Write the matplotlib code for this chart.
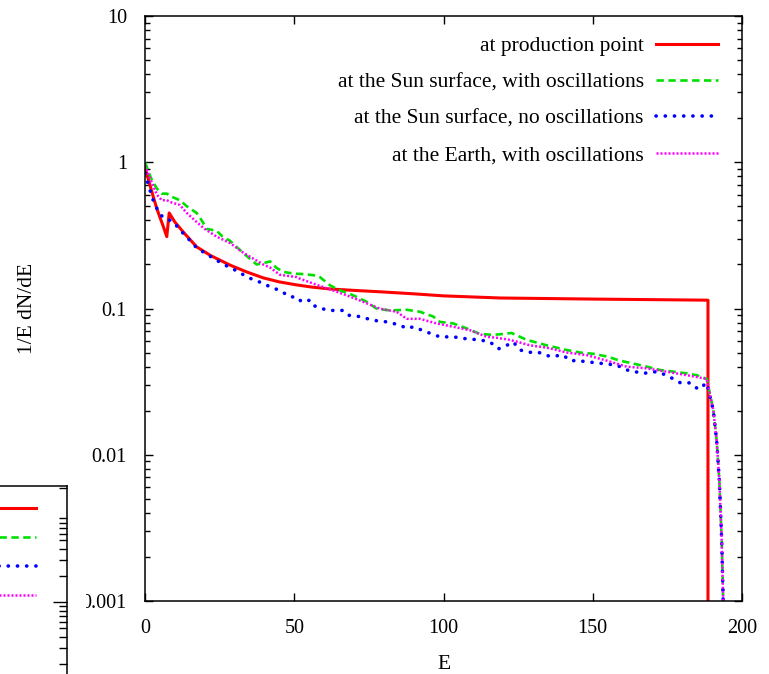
import numpy as np
import matplotlib
matplotlib.use("Agg")
import matplotlib.pyplot as plt
from matplotlib.patches import Rectangle
from matplotlib.lines import Line2D
from matplotlib.ticker import LogLocator, NullFormatter, FixedLocator

plt.rcParams['font.family'] = ['Liberation Serif', 'DejaVu Serif']

# ---------------- data ----------------
labels = ["at production point",
          "at the Sun surface, with oscillations",
          "at the Sun surface, no oscillations",
          "at the Earth, with oscillations"]

E_prod = [0, 1, 2, 3, 4, 5, 6, 7.3, 8.1, 10, 13, 17.3, 22, 28.5, 34, 39.6, 45,
          50.8, 56, 62, 70, 79, 90, 100, 119, 150, 188.6, 188.6]
v_prod = [0.92, 0.78, 0.66, 0.56, 0.48, 0.42, 0.37, 0.31, 0.45, 0.39, 0.33,
          0.264, 0.23, 0.198, 0.178, 0.162, 0.152, 0.145, 0.140, 0.136, 0.133,
          0.130, 0.126, 0.122, 0.118, 0.116, 0.114, 1e-4]

E_tail = [190.4, 191.5, 192.4, 193.2, 193.7, 194.0]
v_tail = [0.020, 0.0126, 0.0067, 0.0026, 0.001, 0.0005]

E_sun_osc = [0, 2, 4, 5.6, 7.3, 9, 11.7, 14, 17.3, 19, 20.7, 24, 26, 28.5, 31,
             32.9, 35, 37.4, 40, 41.9, 44, 46.3, 50, 53, 56.4, 58.6, 62, 65.3,
             69.8, 74.3, 77.6, 82, 87.7, 92.1, 96.6, 98.8, 103.3, 107.8, 112.2,
             116.7, 120, 122.8, 127.9, 134.6, 141.3, 145.7, 150.2, 154.7, 159.1,
             163.6, 168.1, 172.5, 177, 181.5, 184.8, 188.2]
v_sun_osc = [1.0, 0.78, 0.66, 0.61, 0.61, 0.58, 0.55, 0.50, 0.45, 0.40, 0.35,
             0.34, 0.31, 0.29, 0.26, 0.24, 0.22, 0.20, 0.205, 0.21, 0.19, 0.178,
             0.173, 0.172, 0.169, 0.164, 0.144, 0.133, 0.123, 0.111, 0.0997,
             0.097, 0.098, 0.095, 0.088, 0.081, 0.079, 0.073, 0.067, 0.066,
             0.067, 0.068, 0.061, 0.056, 0.052, 0.050, 0.049, 0.047, 0.044,
             0.042, 0.040, 0.038, 0.037, 0.036, 0.035, 0.033]

E_sun_noosc = [0, 1.7, 3, 4.5, 6, 7.5, 9.5, 12, 14.5, 17.3, 20, 23, 25.5, 28.5,
               31, 34, 37, 39.6, 42, 45.2, 48.6, 50.8, 52.5, 55.3, 56.4, 59, 62,
               66.4, 68.1, 72, 76.5, 81, 85.4, 87.7, 89.9, 94.4, 98.8, 103.3,
               107.8, 112.2, 115.6, 118.4, 121.2, 123.4, 125.6, 129.5, 132,
               135.7, 140.1, 142.4, 145, 149, 153.5, 158, 161.4, 166.9, 171.4,
               174.7, 177, 179.4, 182.6, 185.4, 188.2]
v_sun_noosc = [0.84, 0.64, 0.53, 0.46, 0.42, 0.41, 0.39, 0.34, 0.30, 0.26, 0.24,
               0.22, 0.205, 0.19, 0.18, 0.165, 0.155, 0.149, 0.14, 0.133, 0.12,
               0.12, 0.111, 0.114, 0.105, 0.10, 0.097, 0.097, 0.09, 0.088,
               0.083, 0.081, 0.077, 0.073, 0.075, 0.069, 0.064, 0.064, 0.062,
               0.061, 0.059, 0.053, 0.056, 0.059, 0.052, 0.050, 0.050, 0.047,
               0.048, 0.044, 0.044, 0.043, 0.042, 0.041, 0.038, 0.036, 0.037,
               0.035, 0.033, 0.031, 0.031, 0.028, 0.031]

E_earth = [0, 2, 4, 5.6, 7.3, 9, 11.7, 14, 17.3, 20, 24, 28.5, 33, 37, 39.6, 42,
           45.2, 50.8, 51.9, 56.4, 62, 67.6, 73.1, 78.7, 84.3, 87.7, 92.1, 97.7,
           103.3, 108.9, 114.5, 118, 122.3, 129, 134.6, 141.3, 148, 154.7,
           161.4, 168, 174.7, 181.5, 188.2]
v_earth = [0.95, 0.75, 0.60, 0.55, 0.55, 0.53, 0.51, 0.45, 0.39, 0.35, 0.31,
           0.28, 0.24, 0.215, 0.20, 0.19, 0.17, 0.164, 0.16, 0.148, 0.135,
           0.123, 0.111, 0.0997, 0.095, 0.085, 0.085, 0.079, 0.075, 0.071,
           0.064, 0.063, 0.061, 0.056, 0.054, 0.050, 0.048, 0.044, 0.040,
           0.039, 0.037, 0.035, 0.033]

xticks = [0, 50, 100, 150, 200]
yticks = [0.001, 0.01, 0.1, 1, 10]
ytick_labels = ["0.001", "0.01", "0.1", "1", "10"]

# ---------------- figure ----------------
W, H = 769, 674
fig = plt.figure(figsize=(W / 100, H / 100), dpi=100)

def px_rect(x0, y0, x1, y1):
    return [x0 / W, 1 - y1 / H, (x1 - x0) / W, (y1 - y0) / H]

ax = fig.add_axes(px_rect(145, 16, 742, 601))
ax.set_yscale('log')

styles = [
    dict(color='#ff0000', lw=2.2, ls='-'),
    dict(color='#00e000', lw=1.9, ls=(0, (2.8, 1.7))),
    dict(color='#0000ff', lw=2.6, ls=(0, (0.05, 2.5)), dash_capstyle='round'),
    dict(color='#ff00ff', lw=1.8, ls=(0, (0.8, 0.8))),
]

series = [
    (E_prod, v_prod),
    (E_sun_osc + E_tail, v_sun_osc + v_tail),
    (E_sun_noosc + E_tail, v_sun_noosc + v_tail),
    (E_earth + E_tail, v_earth + v_tail),
]
handles = []
for (xs, ys), st, lab in zip(series, styles, labels):
    h, = ax.plot(xs, ys, label=lab, **st)
    handles.append(h)

ax.set_xlim(0, 200)
ax.set_ylim(0.001, 10)
ax.set_xticks(xticks)
ax.set_xticklabels([str(t) for t in xticks])
ax.xaxis.set_minor_locator(FixedLocator([]))
ax.set_yticks(yticks)
ax.set_yticklabels(ytick_labels)
ax.yaxis.set_minor_locator(LogLocator(base=10, subs=np.arange(2, 10)))
ax.yaxis.set_minor_formatter(NullFormatter())

ax.tick_params(which='both', direction='in', top=True, right=True, width=1.0)
ax.tick_params(which='major', length=6)
ax.tick_params(which='minor', length=3.6)
ax.tick_params(axis='y', which='major', pad=13, labelsize=14.5)
ax.tick_params(axis='x', which='major', pad=13, labelsize=14.5)
for s in ax.spines.values():
    s.set_linewidth(1.1)

ax.set_xlabel("E", fontsize=15.5, labelpad=12)
ax.set_ylabel("1/E dN/dE", fontsize=15.5)
ax.yaxis.set_label_coords((37 - 145) / 597, 0.5)

leg = ax.legend(handles=handles, loc='upper right', frameon=False,
                markerfirst=False, fontsize=15.5, handlelength=2.9,
                handletextpad=0.55, labelspacing=0.76, borderpad=0,
                borderaxespad=0,
                bbox_to_anchor=(718 / W, 1 - 36 / H),
                bbox_transform=fig.transFigure)
for t in leg.get_texts():
    t.set_ha('right')

# ---------------- fragment of a neighbouring chart (bottom left) ----------------
cover = Rectangle((0, 0), 86 / W, 1 - 480 / H, transform=fig.transFigure,
                  facecolor='white', edgecolor='none', zorder=5)
fig.patches.append(cover)

ax2 = fig.add_axes(px_rect(-200, 486, 67, 760))
ax2.set_zorder(6)
ax2.set_yscale('log')
ax2.set_ylim(1e-3 * 10 ** (-158 / 88), 1e-3 * 10 ** (116 / 88))
ax2.set_xlim(0, 1)
ax2.yaxis.tick_right()
ax2.yaxis.set_major_locator(FixedLocator([1e-3]))
ax2.yaxis.set_minor_locator(LogLocator(base=10, subs=np.arange(2, 10)))
ax2.yaxis.set_major_formatter(NullFormatter())
ax2.yaxis.set_minor_formatter(NullFormatter())
ax2.set_xticks([])
ax2.tick_params(axis='y', which='both', direction='in', left=False, right=True,
                width=1.0)
ax2.tick_params(axis='y', which='major', length=10)
ax2.tick_params(axis='y', which='minor', length=6)
for s in ax2.spines.values():
    s.set_linewidth(1.1)
frag_handles = [Line2D([], [], **st) for st in styles]
leg2 = ax2.legend(handles=frag_handles, labels=[''] * 4, loc='upper right',
                  frameon=False, markerfirst=False, fontsize=12,
                  handlelength=3.0, handletextpad=0.0, labelspacing=0.78,
                  borderpad=0, borderaxespad=0,
                  bbox_to_anchor=(36 / W, 1 - 502 / H),
                  bbox_transform=fig.transFigure)

fig.savefig("out.png", dpi=100)
